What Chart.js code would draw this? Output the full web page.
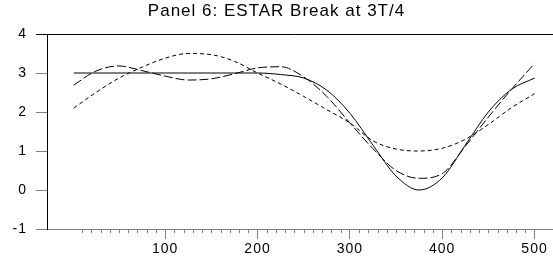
<!DOCTYPE html>
<html>
<head>
<meta charset="utf-8">
<script src="https://cdn.jsdelivr.net/npm/chart.js@4/dist/chart.umd.min.js"></script>
<style>
  html, body { margin: 0; padding: 0; background: #fff; }
  canvas { display: block; }
</style>
</head>
<body>
<canvas id="myChart" width="553" height="257"></canvas>
<script>
// observation index
const t = [1, 25, 50, 75, 100, 125, 150, 175, 200, 225, 250, 275, 300, 325, 350, 375, 400, 425, 450, 475, 500];
// solid: true ESTAR path
const solidLine = [3, 3, 3, 3, 3, 3, 3, 3, 3, 2.96, 2.87, 2.56, 1.97, 1.15, 0.36, 0.0, 0.31, 1.15, 2.0, 2.58, 2.87];
// long dashes
const longDash = [2.69, 3.05, 3.18, 3.06, 2.92, 2.82, 2.85, 2.98, 3.13, 3.16, 2.9, 2.4, 1.72, 1.06, 0.5, 0.3, 0.42, 1.12, 1.87, 2.58, 3.24];
// short dashes
const shortDash = [2.1, 2.5, 2.87, 3.15, 3.38, 3.5, 3.47, 3.3, 3.0, 2.72, 2.4, 2.06, 1.72, 1.26, 1.05, 1.0, 1.07, 1.3, 1.68, 2.11, 2.47];

const yTicks = [-1, 0, 1, 2, 3, 4];
const xTicks = [100, 200, 300, 400, 500];
const minorStep = 10;

const FONT = "'Liberation Sans', Arial, sans-serif";

const pts = ys => t.map((x, i) => ({ x: x, y: ys[i] }));

// the old EViews output has loosely spaced text
const spacing = {
  id: 'spacing',
  beforeInit(chart) { chart.ctx.letterSpacing = '1px'; },
  beforeDraw(chart) { chart.ctx.letterSpacing = '1px'; }
};

const minorTicks = {
  id: 'minorTicks',
  afterDraw(chart) {
    const { ctx, chartArea, scales } = chart;
    ctx.save();
    ctx.lineWidth = 1;
    ctx.strokeStyle = '#808080';
    ctx.beginPath();
    for (let v = minorStep; v <= xTicks[xTicks.length - 1]; v += minorStep) {
      if (xTicks.includes(v)) continue;
      const x = Math.round(scales.x.getPixelForValue(v)) + 0.5;
      ctx.moveTo(x, chartArea.bottom);
      ctx.lineTo(x, chartArea.bottom + 4);
    }
    ctx.stroke();
    // top frame line
    ctx.strokeStyle = '#000';
    ctx.beginPath();
    const yTop = Math.round(chartArea.top) + 0.5;
    ctx.moveTo(chartArea.left - 11, yTop);
    ctx.lineTo(chartArea.right, yTop);
    ctx.stroke();
    ctx.restore();
  }
};

const ctx = document.getElementById('myChart');

new Chart(ctx, {
  type: 'line',
  data: {
    datasets: [
      { data: pts(solidLine), borderColor: '#000', borderWidth: 1 },
      { data: pts(longDash), borderColor: '#000', borderWidth: 1, borderDash: [9, 3] },
      { data: pts(shortDash), borderColor: '#000', borderWidth: 1, borderDash: [4, 3] }
    ]
  },
  options: {
    responsive: false,
    animation: false,
    layout: { padding: 0 },
    elements: {
      point: { radius: 0 },
      line: { cubicInterpolationMode: 'monotone', fill: false }
    },
    plugins: {
      legend: { display: false },
      tooltip: { enabled: false },
      title: {
        display: true,
        text: 'Panel 6: ESTAR Break at 3T/4',
        color: '#000',
        font: { family: FONT, size: 17, weight: 'normal', lineHeight: 1.2 },
        padding: { top: 1.5, bottom: 12.1 }
      }
    },
    scales: {
      x: {
        type: 'linear',
        min: -28,
        max: 520,
        afterBuildTicks: s => { s.ticks = xTicks.map(v => ({ value: v })); },
        afterFit: s => { s.height = 28; },
        grid: { drawOnChartArea: false, tickLength: 10, color: '#808080' },
        border: { color: '#808080', width: 1 },
        ticks: { color: '#000', font: { family: FONT, size: 14 }, padding: 2, maxRotation: 0 }
      },
      y: {
        min: -1,
        max: 4,
        afterBuildTicks: s => { s.ticks = yTicks.map(v => ({ value: v })); },
        afterFit: s => { s.width = 47; },
        grid: { drawOnChartArea: false, tickLength: 11, color: '#808080' },
        border: { color: '#000', width: 1 },
        ticks: { color: '#000', font: { family: FONT, size: 14 }, padding: 9 }
      }
    }
  },
  plugins: [spacing, minorTicks]
});
</script>
</body>
</html>
